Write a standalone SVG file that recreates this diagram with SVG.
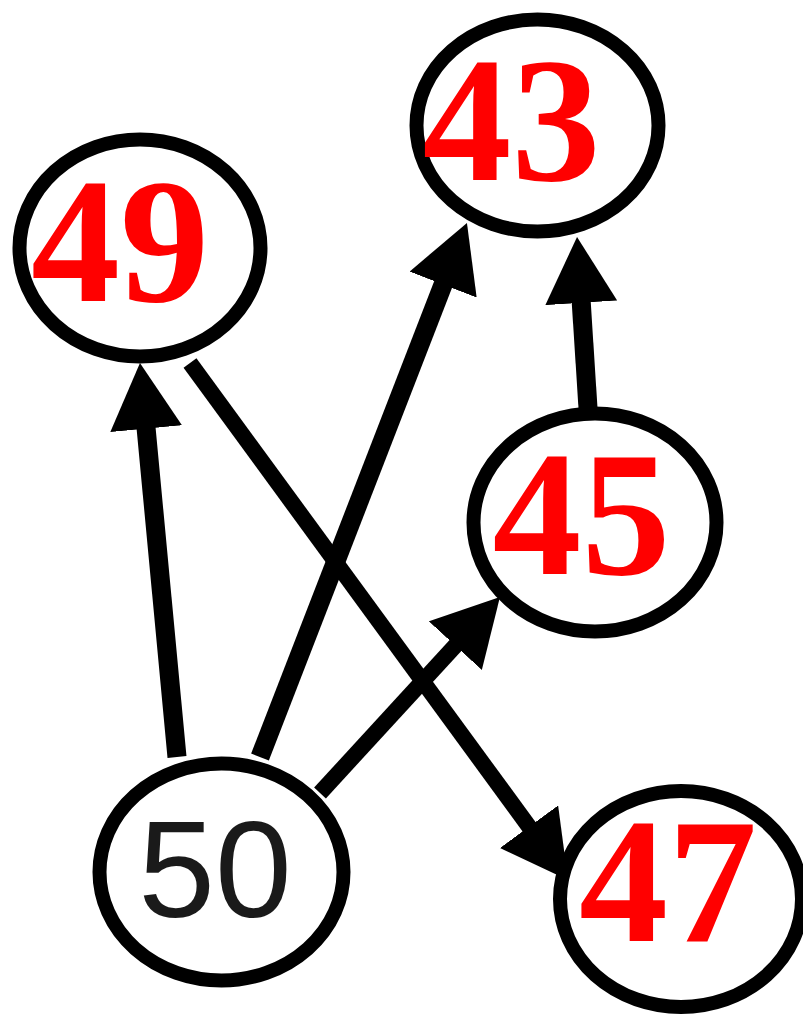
<svg xmlns="http://www.w3.org/2000/svg" width="803" height="1019" viewBox="0 0 803 1019">
<defs>
<style>
.node ellipse{fill:#fff;stroke:#000;stroke-width:14}
.red{font-family:"Liberation Serif","Times New Roman",serif;font-weight:bold;font-size:178px;fill:#ff0000;text-anchor:middle}
.blk{font-family:"Liberation Sans",Arial,sans-serif;font-size:138px;fill:#1a1a1a;text-anchor:middle}
.edge{stroke:#000;stroke-width:16;fill:none;marker-end:url(#ah)}
.thick{stroke-width:19}
</style>
<marker id="ah" viewBox="0 0 66 72" refX="26" refY="36" markerWidth="66" markerHeight="72" markerUnits="userSpaceOnUse" orient="auto">
<path d="M0,0 L66,36 L0,72 z" fill="#000"/>
</marker>
</defs>
<rect width="803" height="1019" fill="#fff"/>
<g id="connectors">
<path class="edge thick" d="M177,757 L143.7,402.8"/>
<path class="edge thick" d="M260,757 L452.5,260.3"/>
<path class="edge thick" d="M588,408 L579.6,276.9"/>
<path class="edge" d="M320,793 L472.9,626.5"/>
<path class="edge" d="M190,363 L544.4,847.7"/>
</g>
<g id="node49" class="node"><ellipse cx="140" cy="248" rx="120.5" ry="108.5"/><text class="red" x="120" y="301">49</text></g>
<g id="node43" class="node"><ellipse cx="537.5" cy="125.5" rx="121" ry="106"/><text class="red" x="511.5" y="180">43</text></g>
<g id="node45" class="node"><ellipse cx="595" cy="522.5" rx="121.5" ry="109"/><text class="red" x="581.5" y="574">45</text></g>
<g id="node50" class="node"><ellipse cx="221.5" cy="872" rx="122" ry="108.5"/><text class="blk" x="215" y="917">50</text></g>
<g id="node47" class="node"><ellipse cx="681" cy="899" rx="121" ry="108"/><text class="red" x="668" y="941">47</text></g>
</svg>
